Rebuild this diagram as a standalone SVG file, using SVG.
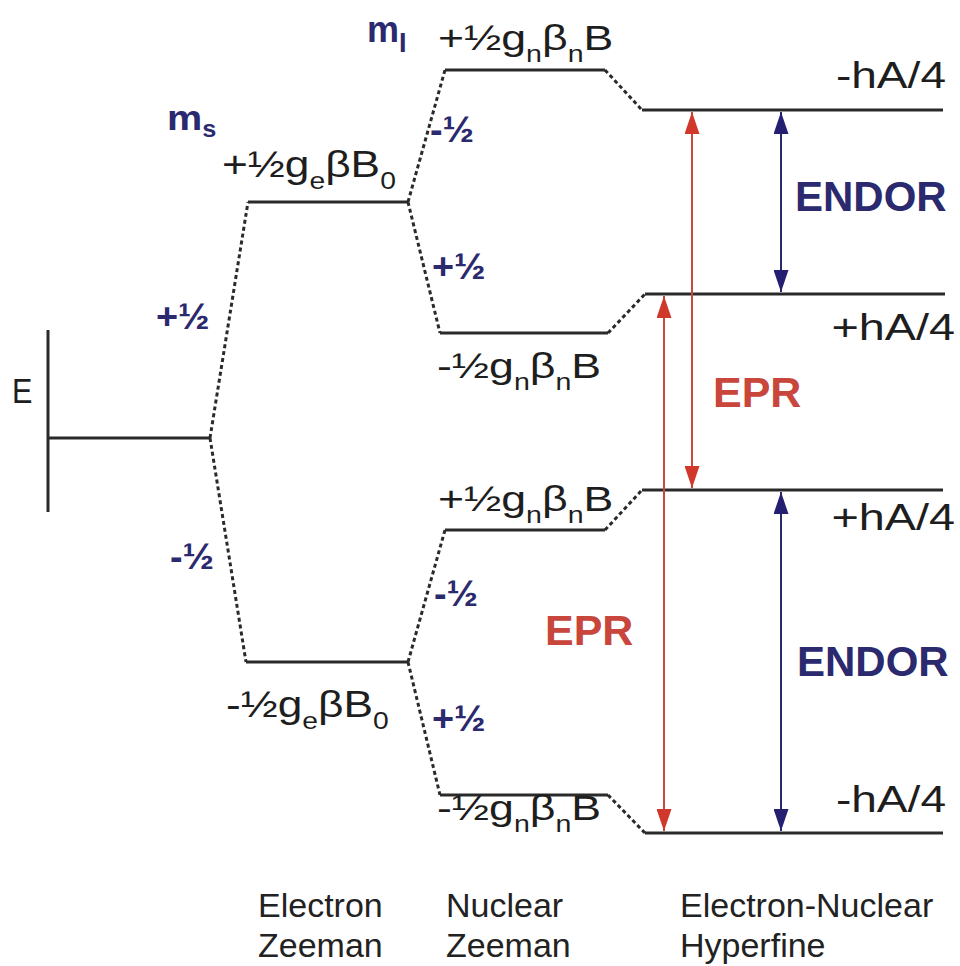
<svg xmlns="http://www.w3.org/2000/svg" width="960" height="966" viewBox="0 0 960 966">
<style>
.lvl{stroke:#2a2a2a;stroke-width:3;fill:none}
.dash{stroke:#2a2a2a;stroke-width:3;stroke-dasharray:4 3;fill:none}
.t{font-family:"Liberation Sans",Arial,sans-serif;fill:#1e1e1e;font-size:36px}
.s{font-size:23px}
.nv{font-family:"Liberation Sans",Arial,sans-serif;fill:#2b2a6e}
.q{font-size:36px;font-weight:bold}
.b{font-weight:bold}
.red{stroke:#c4493f;stroke-width:2}
.blu{stroke:#2b2a6e;stroke-width:2}
.bot{font-family:"Liberation Sans",Arial,sans-serif;font-size:34px;fill:#222}
</style>
<defs>
<marker id="ab" viewBox="0 0 10 10" refX="10" refY="5" markerWidth="22" markerHeight="15" markerUnits="userSpaceOnUse" orient="auto-start-reverse" preserveAspectRatio="none"><path d="M0,0 L10,5 L0,10 z" fill="#241f70"/></marker>
<marker id="arr" viewBox="0 0 10 10" refX="10" refY="5" markerWidth="22" markerHeight="15" markerUnits="userSpaceOnUse" orient="auto-start-reverse" preserveAspectRatio="none"><path d="M0,0 L10,5 L0,10 z" fill="#d0382c"/></marker>
</defs>

<g id="axis">
<line class="lvl" x1="48" y1="330" x2="48" y2="512"/>
<line class="lvl" x1="48" y1="438" x2="210" y2="438"/>
<text class="t" transform="translate(12,403) scale(0.85,1)" fill="#333">E</text>
</g>

<g id="levels">
<line class="lvl" x1="248" y1="202" x2="408" y2="202"/>
<line class="lvl" x1="246" y1="662" x2="408" y2="662"/>
<line class="lvl" x1="445" y1="70" x2="605" y2="70"/>
<line class="lvl" x1="440" y1="333" x2="608" y2="333"/>
<line class="lvl" x1="445" y1="530" x2="605" y2="530"/>
<line class="lvl" x1="440" y1="795" x2="608" y2="795"/>
<line class="lvl" x1="642" y1="110" x2="943" y2="110"/>
<line class="lvl" x1="645" y1="294" x2="945" y2="294"/>
<line class="lvl" x1="642" y1="490" x2="943" y2="490"/>
<line class="lvl" x1="645" y1="833" x2="943" y2="833"/>
</g>

<g id="connectors">
<path class="dash" d="M210,438 L248,202 M210,438 L246,662"/>
<path class="dash" d="M408,202 L445,70 M408,202 L440,333"/>
<path class="dash" d="M408,662 L445,530 M408,662 L440,795"/>
<path class="dash" d="M605,70 L642,110 M608,333 L645,294"/>
<path class="dash" d="M605,530 L642,490 M608,795 L645,833"/>
<line class="red" x1="692" y1="112" x2="692" y2="488" marker-start="url(#arr)" marker-end="url(#arr)"/>
<line class="red" x1="664" y1="296" x2="664" y2="831" marker-start="url(#arr)" marker-end="url(#arr)"/>
<line class="blu" x1="781" y1="112" x2="781" y2="292" marker-start="url(#ab)" marker-end="url(#ab)"/>
<line class="blu" x1="781" y1="492" x2="781" y2="831" marker-start="url(#ab)" marker-end="url(#ab)"/>
</g>

<g id="labels-quantum">
<text class="nv b" x="367" y="42" font-size="36">m<tspan font-size="27" dy="10">I</tspan></text>
<text class="nv b" transform="translate(167,130) scale(1.1,1)" font-size="36">m<tspan font-size="23" dy="7">s</tspan></text>
<text class="nv q" transform="translate(430,142) scale(1.05,1)">-½</text>
<text class="nv q" transform="translate(432,279) scale(1.05,1)">+½</text>
<text class="nv q" transform="translate(156,329) scale(1.05,1)">+½</text>
<text class="nv q" transform="translate(170,569) scale(1.05,1)">-½</text>
<text class="nv q" transform="translate(434,606) scale(1.05,1)">-½</text>
<text class="nv q" transform="translate(432,731) scale(1.05,1)">+½</text>
</g>

<g id="labels-energy">
<text class="t" transform="translate(438,50) scale(1.24,1)">+½g<tspan class="s" dy="12">n</tspan><tspan dy="-12">β</tspan><tspan class="s" dy="12">n</tspan><tspan dy="-12">B</tspan></text>
<text class="t" transform="translate(222,177) scale(1.23,1)">+½g<tspan class="s" dy="12">e</tspan><tspan dy="-12">βB</tspan><tspan class="s" dy="12">0</tspan></text>
<text class="t" transform="translate(437,378) scale(1.24,1)">-½g<tspan class="s" dy="12">n</tspan><tspan dy="-12">β</tspan><tspan class="s" dy="12">n</tspan><tspan dy="-12">B</tspan></text>
<text class="t" transform="translate(438,511) scale(1.24,1)">+½g<tspan class="s" dy="12">n</tspan><tspan dy="-12">β</tspan><tspan class="s" dy="12">n</tspan><tspan dy="-12">B</tspan></text>
<text class="t" transform="translate(226,717) scale(1.23,1)">-½g<tspan class="s" dy="12">e</tspan><tspan dy="-12">βB</tspan><tspan class="s" dy="12">0</tspan></text>
<text class="t" transform="translate(437,820) scale(1.24,1)">-½g<tspan class="s" dy="12">n</tspan><tspan dy="-12">β</tspan><tspan class="s" dy="12">n</tspan><tspan dy="-12">B</tspan></text>
<text class="t" transform="translate(946,88) scale(1.28,1)" text-anchor="end" font-size="34">-hA/4</text>
<text class="t" transform="translate(955,340) scale(1.3,1)" text-anchor="end" font-size="34">+hA/4</text>
<text class="t" transform="translate(955,530) scale(1.3,1)" text-anchor="end" font-size="34">+hA/4</text>
<text class="t" transform="translate(946,812) scale(1.28,1)" text-anchor="end" font-size="34">-hA/4</text>
</g>

<g id="labels-transitions">
<text class="nv b" x="795" y="211" font-size="42">ENDOR</text>
<text class="nv b" x="797" y="676" font-size="42">ENDOR</text>
<text x="713" y="407" font-size="43" font-weight="bold" font-family="Liberation Sans,Arial,sans-serif" fill="#c8463c">EPR</text>
<text x="545" y="645" font-size="43" font-weight="bold" font-family="Liberation Sans,Arial,sans-serif" fill="#c8463c">EPR</text>
</g>

<g id="labels-bottom">
<text class="bot" x="258" y="917">Electron</text>
<text class="bot" x="258" y="957">Zeeman</text>
<text class="bot" x="446" y="917">Nuclear</text>
<text class="bot" x="446" y="957">Zeeman</text>
<text class="bot" x="680" y="917">Electron-Nuclear</text>
<text class="bot" x="680" y="957">Hyperfine</text>
</g>
</svg>
